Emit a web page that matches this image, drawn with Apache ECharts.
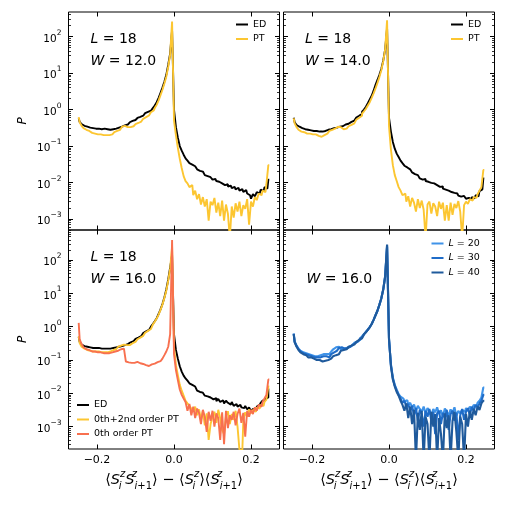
<!DOCTYPE html>
<html lang="en">
<head>
<meta charset="UTF-8">
<script src="https://cdn.jsdelivr.net/npm/echarts@6/dist/echarts.min.js"></script>
<style>
  html, body { margin: 0; padding: 0; background: #fff; }
  #main { width: 507px; height: 507px; }
</style>
</head>
<body>
<div id="main"></div>
<script>
// histogram bin centres
const binX = [
  -0.2475, -0.2425, -0.2375, -0.2325, -0.2275, -0.2225, -0.2175, -0.2125, -0.2075, -0.2025,
  -0.1975, -0.1925, -0.1875, -0.1825, -0.1775, -0.1725, -0.1675, -0.1625, -0.1575, -0.1525,
  -0.1475, -0.1425, -0.1375, -0.1325, -0.1275, -0.1225, -0.1175, -0.1125, -0.1075, -0.1025,
  -0.0975, -0.0925, -0.0875, -0.0825, -0.0775, -0.0725, -0.0675, -0.0625, -0.0575, -0.0525,
  -0.0475, -0.0425, -0.0375, -0.0325, -0.0275, -0.0225, -0.0175, -0.0125, -0.0075, -0.0025,
  0.0025, 0.0075, 0.0125, 0.0175, 0.0225, 0.0275, 0.0325, 0.0375, 0.0425, 0.0475,
  0.0525, 0.0575, 0.0625, 0.0675, 0.0725, 0.0775, 0.0825, 0.0875, 0.0925, 0.0975,
  0.1025, 0.1075, 0.1125, 0.1175, 0.1225, 0.1275, 0.1325, 0.1375, 0.1425, 0.1475,
  0.1525, 0.1575, 0.1625, 0.1675, 0.1725, 0.1775, 0.1825, 0.1875, 0.1925, 0.1975,
  0.2025, 0.2075, 0.2125, 0.2175, 0.2225, 0.2275, 0.2325, 0.2375, 0.2425, 0.2475
];

// L = 18, W = 12
const edW12 = [
  0.58, 0.46, 0.40, 0.36, 0.34, 0.33, 0.32, 0.31, 0.31, 0.30,
  0.30, 0.30, 0.29, 0.30, 0.29, 0.29, 0.28, 0.29, 0.29, 0.30,
  0.31, 0.32, 0.34, 0.36, 0.37, 0.39, 0.42, 0.45, 0.49, 0.52,
  0.55, 0.59, 0.63, 0.68, 0.74, 0.80, 0.87, 0.93, 1.0, 1.1,
  1.3, 1.6, 2.1, 2.9, 4.0, 5.8, 9, 17, 35, 150,
  1.0, 0.33, 0.17, 0.10, 0.075, 0.058, 0.046, 0.040, 0.034, 0.031,
  0.028, 0.026, 0.023, 0.021, 0.020, 0.018, 0.016, 0.015, 0.014, 0.013,
  0.012, 0.0125, 0.011, 0.0105, 0.0095, 0.010, 0.0085, 0.0090, 0.0078, 0.0082,
  0.0070, 0.0076, 0.0065, 0.0072, 0.0060, 0.0066, 0.0055, 0.0062, 0.0050, 0.0045,
  0.0036, 0.0048, 0.0042, 0.0055, 0.0050, 0.0064, 0.0058, 0.0075, 0.0068, 0.012
];
const ptW12 = [
  0.62, 0.45, 0.36, 0.31, 0.28, 0.26, 0.24, 0.23, 0.22, 0.22,
  0.21, 0.21, 0.20, 0.20, 0.20, 0.20, 0.20, 0.21, 0.22, 0.24,
  0.26, 0.28, 0.31, 0.34, 0.36, 0.33, 0.32, 0.33, 0.35, 0.37,
  0.40, 0.43, 0.47, 0.51, 0.56, 0.62, 0.69, 0.76, 0.85, 0.95,
  1.1, 1.35, 1.8, 2.5, 3.5, 5.2, 8, 15, 32, 260,
  0.5, 0.2, 0.09, 0.045, 0.025, 0.015, 0.011, 0.0095, 0.0075, 0.0085,
  0.0045, 0.006, 0.0035, 0.0048, 0.0025, 0.004, 0.0022, 0.0035, 0.0009, 0.003,
  0.0024, 0.0038, 0.0015, 0.0028, 0.0012, 0.0032, 0.0009, 0.0025, 0.0014, 0.0003,
  0.0022, 0.0011, 0.0027, 0.0016, 0.0030, 0.0012, 0.0024, 0.0019, 0.0035, 0.0007,
  0.0030, 0.0022, 0.0040, 0.0033, 0.0050, 0.0045, 0.0060, 0.0055, 0.0090, 0.030
];

// L = 18, W = 14
const edW14 = [
  0.60, 0.45, 0.38, 0.34, 0.31, 0.30, 0.29, 0.28, 0.27, 0.27,
  0.26, 0.26, 0.26, 0.25, 0.26, 0.25, 0.26, 0.27, 0.28, 0.29,
  0.30, 0.31, 0.32, 0.33, 0.34, 0.35, 0.37, 0.39, 0.41, 0.43,
  0.46, 0.50, 0.55, 0.61, 0.68, 0.77, 0.88, 1.0, 1.2, 1.5,
  1.9, 2.4, 3.3, 4.8, 6.5, 9, 13, 22, 45, 170,
  0.6, 0.25, 0.13, 0.085, 0.062, 0.050, 0.040, 0.034, 0.029, 0.026,
  0.023, 0.021, 0.019, 0.017, 0.016, 0.015, 0.013, 0.012, 0.0125, 0.011,
  0.0105, 0.0098, 0.0092, 0.0095, 0.0085, 0.0080, 0.0076, 0.0078, 0.0068, 0.0064,
  0.0060, 0.0062, 0.0055, 0.0052, 0.0048, 0.0050, 0.0044, 0.0041, 0.0043, 0.0039,
  0.0036, 0.0038, 0.0034, 0.0040, 0.0037, 0.0045, 0.0042, 0.0058, 0.0065, 0.013
];
const ptW14 = [
  0.58, 0.42, 0.33, 0.28, 0.25, 0.24, 0.23, 0.22, 0.22, 0.22,
  0.21, 0.21, 0.20, 0.19, 0.18, 0.18, 0.20, 0.22, 0.24, 0.26,
  0.28, 0.30, 0.32, 0.34, 0.33, 0.30, 0.29, 0.30, 0.32, 0.35,
  0.38, 0.42, 0.47, 0.53, 0.60, 0.68, 0.78, 0.90, 1.05, 1.3,
  1.6, 2.1, 2.8, 3.8, 5.4, 7.8, 12, 21, 45, 280,
  0.35, 0.08, 0.03, 0.016, 0.011, 0.0075, 0.0060, 0.0045, 0.0050, 0.0030,
  0.0042, 0.0022, 0.0038, 0.0028, 0.0016, 0.0035, 0.0020, 0.0032, 0.0018, 0.0003,
  0.0025, 0.0030, 0.0014, 0.0027, 0.0022, 0.0012, 0.0030, 0.0019, 0.0028, 0.0009,
  0.0024, 0.0009, 0.0028, 0.0013, 0.0026, 0.0020, 0.0031, 0.0016, 0.0003, 0.0024,
  0.0030, 0.0026, 0.0035, 0.0032, 0.0040, 0.0038, 0.0048, 0.0060, 0.0075, 0.022
];

// L = 18, W = 16
const edW16 = [
  0.50, 0.35, 0.29, 0.26, 0.25, 0.24, 0.24, 0.23, 0.23, 0.23,
  0.23, 0.22, 0.22, 0.22, 0.21, 0.22, 0.22, 0.23, 0.23, 0.24,
  0.24, 0.25, 0.26, 0.27, 0.28, 0.30, 0.32, 0.34, 0.37, 0.40,
  0.43, 0.47, 0.52, 0.58, 0.64, 0.72, 0.80, 0.90, 1.0, 1.2,
  1.45, 1.8, 2.4, 3.3, 4.8, 7.5, 13, 26, 60, 140,
  0.6, 0.2, 0.11, 0.065, 0.045, 0.034, 0.028, 0.024, 0.020, 0.018,
  0.016, 0.014, 0.012, 0.011, 0.0105, 0.0092, 0.0085, 0.0081, 0.0075, 0.0070,
  0.0066, 0.0072, 0.0058, 0.0068, 0.0055, 0.0062, 0.0050, 0.0060, 0.0052, 0.0046,
  0.0055, 0.0042, 0.0048, 0.0040, 0.0045, 0.0038, 0.0036, 0.0042, 0.0033, 0.0038,
  0.0029, 0.0034, 0.0030, 0.0040, 0.0045, 0.0052, 0.0060, 0.0068, 0.0075, 0.013
];
const pt2W16 = [
  0.52, 0.32, 0.25, 0.22, 0.20, 0.19, 0.19, 0.18, 0.18, 0.18,
  0.18, 0.17, 0.17, 0.17, 0.17, 0.17, 0.18, 0.19, 0.20, 0.21,
  0.23, 0.25, 0.27, 0.29, 0.30, 0.28, 0.28, 0.30, 0.32, 0.35,
  0.38, 0.42, 0.47, 0.53, 0.59, 0.66, 0.75, 0.85, 0.97, 1.15,
  1.4, 1.75, 2.3, 3.2, 4.6, 7.2, 12, 24, 55, 250,
  0.25, 0.07, 0.035, 0.018, 0.012, 0.0085, 0.0060, 0.0050, 0.0042, 0.0035,
  0.0028, 0.0040, 0.0022, 0.0033, 0.0016, 0.0030, 0.0011, 0.0025, 0.0004, 0.0012,
  0.0020, 0.0028, 0.0013, 0.0032, 0.0018, 0.0008, 0.0006, 0.0021, 0.0029, 0.0012,
  0.0024, 0.0016, 0.0030, 0.0010, 0.0002, 0.0002, 0.0015, 0.0027, 0.0020, 0.0033,
  0.0025, 0.0032, 0.0028, 0.0038, 0.0035, 0.0045, 0.0042, 0.0055, 0.0065, 0.016
];
const pt0W16 = [
  1.3, 0.42, 0.30, 0.24, 0.21, 0.20, 0.19, 0.18, 0.18, 0.17,
  0.17, 0.17, 0.16, 0.16, 0.16, 0.16, 0.16, 0.17, 0.17, 0.18,
  0.19, 0.20, 0.21, 0.22, 0.23, 0.090, 0.085, 0.082, 0.080, 0.082,
  0.088, 0.086, 0.080, 0.076, 0.072, 0.070, 0.066, 0.072, 0.074, 0.078,
  0.082, 0.086, 0.092, 0.10, 0.11, 0.14, 0.18, 0.25, 0.6, 400,
  0.15, 0.05, 0.025, 0.013, 0.009, 0.0070, 0.0055, 0.0030, 0.0048, 0.0022,
  0.0040, 0.0018, 0.0035, 0.0026, 0.0012, 0.0032, 0.0020, 0.0007, 0.0028, 0.0015,
  0.0030, 0.0010, 0.0025, 0.0018, 0.0004, 0.0027, 0.0003, 0.0030, 0.0009, 0.0022,
  0.0016, 0.0028, 0.0011, 0.0024, 0.0035, 0.0013, 0.0026, 0.0005, 0.0030, 0.0020,
  0.0032, 0.0024, 0.0038, 0.0030, 0.0045, 0.0040, 0.0055, 0.0070, 0.0090, 0.026
];

// W = 16, ED for L = 20, 30, 40
const edL20 = [
  0.62, 0.36, 0.27, 0.22, 0.19, 0.17, 0.16, 0.15, 0.15, 0.14,
  0.14, 0.13, 0.13, 0.14, 0.14, 0.15, 0.16, 0.15, 0.15, 0.16,
  0.18, 0.21, 0.24, 0.25, 0.23, 0.21, 0.22, 0.23, 0.24, 0.25,
  0.27, 0.30, 0.33, 0.36, 0.40, 0.45, 0.52, 0.60, 0.70, 0.82,
  0.98, 1.2, 1.6, 2.2, 3.0, 4.5, 7, 13, 32, 250,
  0.40, 0.075, 0.030, 0.018, 0.013, 0.0095, 0.0080, 0.0070, 0.0058, 0.0062,
  0.0045, 0.0052, 0.0038, 0.0046, 0.0030, 0.0042, 0.0034, 0.0028, 0.0040, 0.0025,
  0.0036, 0.0030, 0.0022, 0.0034, 0.0027, 0.0038, 0.0024, 0.0031, 0.0020, 0.0035,
  0.0028, 0.0022, 0.0033, 0.0026, 0.0038, 0.0021, 0.0030, 0.0025, 0.0032, 0.0028,
  0.0036, 0.0030, 0.0040, 0.0034, 0.0045, 0.0042, 0.0052, 0.0060, 0.0075, 0.015
];
const edL30 = [
  0.62, 0.35, 0.26, 0.21, 0.18, 0.16, 0.15, 0.14, 0.14, 0.13,
  0.13, 0.12, 0.12, 0.12, 0.12, 0.13, 0.13, 0.13, 0.12, 0.13,
  0.15, 0.17, 0.19, 0.21, 0.23, 0.24, 0.22, 0.22, 0.23, 0.25,
  0.27, 0.29, 0.32, 0.36, 0.40, 0.45, 0.51, 0.59, 0.69, 0.81,
  0.97, 1.2, 1.6, 2.2, 3.0, 4.5, 7, 13, 32, 270,
  0.42, 0.07, 0.028, 0.017, 0.012, 0.0090, 0.0070, 0.0052, 0.0060, 0.0040,
  0.0048, 0.0030, 0.0042, 0.0022, 0.0036, 0.0015, 0.0032, 0.0024, 0.0010, 0.0030,
  0.0020, 0.0034, 0.0014, 0.0028, 0.0006, 0.0025, 0.0030, 0.0012, 0.0026, 0.0018,
  0.0032, 0.0008, 0.0024, 0.0030, 0.0015, 0.0026, 0.0004, 0.0022, 0.0034, 0.0016,
  0.0028, 0.0036, 0.0022, 0.0040, 0.0030, 0.0045, 0.0038, 0.0050, 0.0060, 0.009
];
const edL40 = [
  0.60, 0.34, 0.25, 0.20, 0.17, 0.15, 0.14, 0.13, 0.12, 0.12,
  0.11, 0.11, 0.10, 0.10, 0.095, 0.09, 0.095, 0.10, 0.10, 0.11,
  0.12, 0.13, 0.14, 0.15, 0.17, 0.19, 0.20, 0.21, 0.23, 0.25,
  0.27, 0.29, 0.32, 0.35, 0.40, 0.45, 0.51, 0.59, 0.68, 0.80,
  0.96, 1.2, 1.6, 2.2, 3.0, 4.5, 7, 13, 32, 290,
  0.45, 0.065, 0.026, 0.016, 0.011, 0.0085, 0.0060, 0.0045, 0.0030, 0.0050,
  0.0018, 0.0040, 0.0012, 0.0032, 0.0001, 0.0026, 0.0008, 0.0030, 0.0001, 0.0020,
  0.0012, 0.0001, 0.0028, 0.0010, 0.0024, 0.0001, 0.0018, 0.0006, 0.0001, 0.0025,
  0.0009, 0.0022, 0.0001, 0.0015, 0.0028, 0.0007, 0.0001, 0.0020, 0.0012, 0.0001,
  0.0024, 0.0010, 0.0030, 0.0016, 0.0034, 0.0022, 0.0040, 0.0032, 0.0050, 0.006
];

const xTicks = [-0.2, 0, 0.2];
const yMajor = [1e-3, 1e-2, 1e-1, 1, 10, 100];
const yMinor = [];
[1e-4, 1e-3, 1e-2, 1e-1, 1, 10, 100].forEach(function (d) {
  for (let k = 2; k <= 9; k++) yMinor.push(+(k * d).toPrecision(2));
});

const FONT = 'DejaVu Sans';
const C_ED = '#000000', C_PT = '#fcc631', C_PT0 = '#f8704f';
const C_L20 = '#3f93e8', C_L30 = '#1f6cc8', C_L40 = '#1f5a9c';

const panels = [
  { left: 68.5, top: 12, width: 211, height: 218, ymin: 5e-4, ymax: 475, xLab: false, yLab: true },
  { left: 283.5, top: 12, width: 211, height: 218, ymin: 5e-4, ymax: 475, xLab: false, yLab: false },
  { left: 68.5, top: 230, width: 211, height: 219, ymin: 2.14e-4, ymax: 794, xLab: true, yLab: true },
  { left: 283.5, top: 230, width: 211, height: 219, ymin: 2.14e-4, ymax: 794, xLab: true, yLab: false }
];

// <S_i^z S_{i+1}^z> - <S_i^z><S_{i+1}^z>
const xName = '{n|\u27E8}{S|S}{b0|i}{p|z}{S|S}{p0|z}{b|i}{bn|+1}{n|\u27E9 \u2212 \u27E8}' +
  '{S|S}{b0|i}{p|z}{n|\u27E9\u27E8}{S|S}{p0|z}{b|i}{bn|+1}{n|\u27E9}';
const xNameRich = {
  n: { fontFamily: FONT, fontSize: 14.5, color: '#000', lineHeight: 22 },
  S: { fontFamily: FONT, fontSize: 14.5, fontStyle: 'italic', color: '#000', lineHeight: 22 },
  p: { fontFamily: FONT, fontSize: 10, fontStyle: 'italic', color: '#000', verticalAlign: 'top' },
  p0: { fontFamily: FONT, fontSize: 10, fontStyle: 'italic', color: '#000', verticalAlign: 'top', width: 0 },
  b: { fontFamily: FONT, fontSize: 10, fontStyle: 'italic', color: '#000', verticalAlign: 'bottom' },
  b0: { fontFamily: FONT, fontSize: 10, fontStyle: 'italic', color: '#000', verticalAlign: 'bottom', width: 0 },
  bn: { fontFamily: FONT, fontSize: 10, color: '#000', verticalAlign: 'bottom' }
};

function fmtX(v) {
  if (Math.abs(v) < 1e-9) return '0.0';
  return (v < 0 ? '\u2212' : '') + Math.abs(v).toFixed(1);
}
function fmtY(v) {
  const e = Math.round(Math.log10(v));
  return '{b|10}{s|' + (e < 0 ? '\u2212' + (-e) : e) + '}';
}

const grids = [], xAxes = [], yAxes = [];
panels.forEach(function (p, g) {
  grids.push({ left: p.left, top: p.top, width: p.width, height: p.height, show: true,
    borderColor: '#000', borderWidth: 1, backgroundColor: 'transparent', outerBoundsMode: 'none' });
  ['bottom', 'top'].forEach(function (pos) {
    const main = pos === 'bottom';
    xAxes.push({
      type: 'value', gridIndex: g, position: pos, min: -0.274, max: 0.274,
      axisLine: { show: false, onZero: false }, splitLine: { show: false },
      axisTick: { inside: true, length: 4.5, customValues: xTicks, lineStyle: { color: '#000', width: 1 } },
      axisLabel: { show: main && p.xLab, customValues: xTicks, formatter: fmtX, margin: 6,
        fontFamily: FONT, fontSize: 11, color: '#000' },
      name: main && p.xLab ? xName : '', nameLocation: 'middle', nameGap: 20,
      nameTextStyle: { rich: xNameRich }
    });
  });
  ['left', 'right'].forEach(function (pos) {
    const main = pos === 'left';
    yAxes.push({
      type: 'log', logBase: 10, gridIndex: g, position: pos, min: p.ymin, max: p.ymax,
      axisLine: { show: false, onZero: false }, splitLine: { show: false }, minorTick: { show: false },
      axisTick: { inside: true, length: 4.5, customValues: yMajor, lineStyle: { color: '#000', width: 1 } },
      axisLabel: { show: main && p.yLab, customValues: yMajor, formatter: fmtY, margin: 7,
        rich: {
          b: { fontFamily: FONT, fontSize: 10.5, color: '#000', lineHeight: 16, verticalAlign: 'bottom' },
          s: { fontFamily: FONT, fontSize: 7.5, color: '#000', lineHeight: 16, verticalAlign: 'top' }
        } },
      name: main && p.yLab ? 'P' : '', nameLocation: 'middle', nameGap: 40,
      nameTextStyle: { fontFamily: FONT, fontSize: 12, fontStyle: 'italic', color: '#000' }
    });
    yAxes.push({
      type: 'log', logBase: 10, gridIndex: g, position: pos, min: p.ymin, max: p.ymax,
      axisLine: { show: false, onZero: false }, splitLine: { show: false }, minorTick: { show: false },
      axisTick: { inside: true, length: 2.5, customValues: yMinor, lineStyle: { color: '#000', width: 0.8 } },
      axisLabel: { show: false }
    });
  });
});

function line(name, vals, color, width, g) {
  return {
    type: 'line', name: name, xAxisIndex: 2 * g, yAxisIndex: 4 * g,
    data: binX.map(function (x, i) { return [x, vals[i]]; }),
    step: 'middle', symbol: 'none', clip: true,
    lineStyle: { color: color, width: width }, itemStyle: { color: color },
    emphasis: { disabled: true }
  };
}

const series = [
  line('ED', edW12, C_ED, 1.9, 0), line('PT', ptW12, C_PT, 1.9, 0),
  line('ED', edW14, C_ED, 1.9, 1), line('PT', ptW14, C_PT, 1.9, 1),
  line('ED', edW16, C_ED, 1.9, 2), line('0th+2nd order PT', pt2W16, C_PT, 1.9, 2),
  line('0th order PT', pt0W16, C_PT0, 1.9, 2),
  line('L = 20', edL20, C_L20, 2.1, 3), line('L = 30', edL30, C_L30, 2.1, 3),
  line('L = 40', edL40, C_L40, 2.1, 3)
];

function legend(names, left, top) {
  return {
    data: names, left: left, top: top, orient: 'vertical', icon: 'rect',
    itemWidth: 12, itemHeight: 2, itemGap: 4.5, padding: 0, selectedMode: false,
    textStyle: { fontFamily: FONT, fontSize: 9.5, color: '#000',
      rich: { i: { fontFamily: FONT, fontSize: 9.5, fontStyle: 'italic', color: '#000' } } },
    formatter: function (n) { return n.replace(/^L /, '{i|L} '); }
  };
}

function label(txt, x, y) {
  return {
    type: 'text', x: x, y: y, silent: true,
    style: {
      text: txt, fill: '#000', align: 'left', verticalAlign: 'middle',
      fontFamily: FONT, fontSize: 14,
      rich: {
        i: { fontFamily: FONT, fontSize: 14, fontStyle: 'italic', fill: '#000' },
        r: { fontFamily: FONT, fontSize: 14, fill: '#000' }
      }
    }
  };
}

const chart = echarts.init(document.getElementById('main'));
chart.setOption({
  animation: false,
  backgroundColor: '#fff',
  grid: grids,
  xAxis: xAxes,
  yAxis: yAxes,
  legend: [
    legend(['ED', 'PT'], 236, 19.5),
    legend(['ED', 'PT'], 451, 19.5),
    legend(['ED', '0th+2nd order PT', '0th order PT'], 77, 400),
    legend(['L = 20', 'L = 30', 'L = 40'], 431.5, 238.5)
  ],
  graphic: [
    label('{i|L}{r| = 18}', 90.5, 39.5), label('{i|W}{r| = 12.0}', 90.5, 61.5),
    label('{i|L}{r| = 18}', 305, 39.5), label('{i|W}{r| = 14.0}', 305, 61.5),
    label('{i|L}{r| = 18}', 90.5, 257.5), label('{i|W}{r| = 16.0}', 90.5, 279.5),
    label('{i|W}{r| = 16.0}', 306.5, 279.5)
  ],
  series: series
});
</script>
</body>
</html>
